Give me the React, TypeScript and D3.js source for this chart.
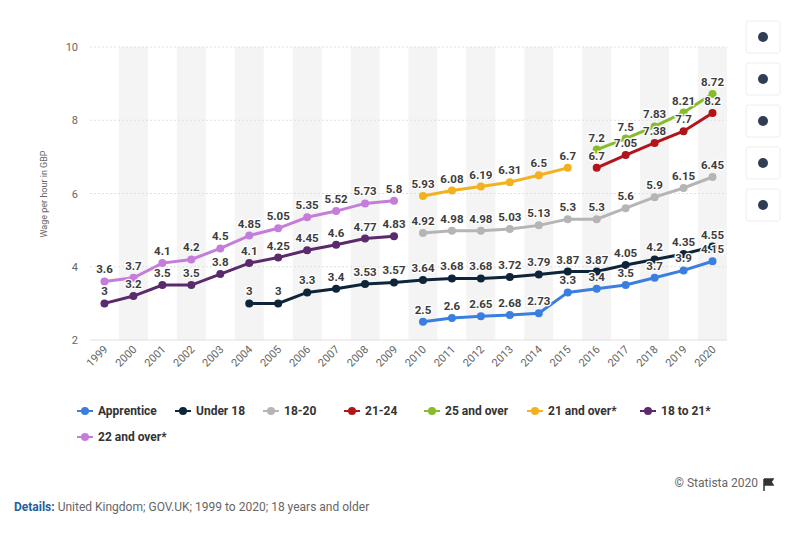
import React from "react";
import * as d3 from "d3";

const years = d3.range(1999, 2021).map(String);
const seriesNames = ["Apprentice","Under 18","18-20","21-24","25 and over","21 and over*","18 to 21*","22 and over*"];
const colors = ["#3a7fe0","#0e2438","#b5b5b5","#b0151b","#86bc2a","#f2b11d","#5a2a6b","#c57ddb"];
const startYears = [2010,2004,2010,2016,2016,2010,1999,1999];
const apprentice = [2.5,2.6,2.65,2.68,2.73,3.3,3.4,3.5,3.7,3.9,4.15];
const under18 = [3,3,3.3,3.4,3.53,3.57,3.64,3.68,3.68,3.72,3.79,3.87,3.87,4.05,4.2,4.35,4.55];
const s1820 = [4.92,4.98,4.98,5.03,5.13,5.3,5.3,5.6,5.9,6.15,6.45];
const s2124 = [6.7,7.05,7.38,7.7,8.2];
const s25 = [7.2,7.5,7.83,8.21,8.72];
const s21over = [5.93,6.08,6.19,6.31,6.5,6.7];
const s18to21 = [3,3.2,3.5,3.5,3.8,4.1,4.25,4.45,4.6,4.77,4.83];
const s22over = [3.6,3.7,4.1,4.2,4.5,4.85,5.05,5.35,5.52,5.73,5.8];
const allValues = [apprentice,under18,s1820,s2124,s25,s21over,s18to21,s22over];
const yTicks = [2,4,6,8,10];

export default function App() {
  const W = 800, H = 543;
  const x = d3.scaleBand().domain(years).range([90, 727]);
  const y = d3.scaleLinear().domain([2, 10]).range([340, 47]);
  const cx = (yr: string) => (x(yr) as number) + x.bandwidth() / 2;
  const line = d3.line<[number, number]>().x(d => d[0]).y(d => d[1]);
  const series = allValues.map((vals, i) => vals.map((v, j) => [cx(String(startYears[i] + j)), y(v), v] as [number, number, number]));
  const legendRow1 = seriesNames.slice(0, 7);
  const legendX = [77, 175, 263, 344, 424, 527, 640];
  return (
    <svg width={W} height={H} style={{ position: "absolute", left: 0, top: 0, fontFamily: "Roboto, sans-serif" }}>
      <rect width={W} height={H} fill="#fff" />
      {years.map((yr, i) => i % 2 === 1 ? <rect key={yr} x={x(yr)} y={47} width={x.bandwidth()} height={293} fill="#f4f4f4" /> : null)}
      {yTicks.map(t => (
        <g key={t}>
          <line x1={90} x2={727} y1={y(t)} y2={y(t)} stroke="#e0e0e0" strokeDasharray={t === 2 ? "" : "2,2"} />
          <text x={78} y={y(t) + 4} textAnchor="end" fontSize={11} fill="#666">{t}</text>
        </g>
      ))}
      <text transform={`translate(47,194) rotate(-90)`} textAnchor="middle" fontSize={9} fill="#666">Wage per hour in GBP</text>
      {years.map(yr => (
        <text key={yr} transform={`translate(${cx(yr) + 4},350) rotate(-45)`} textAnchor="end" fontSize={11} fill="#666">{yr}</text>
      ))}
      {series.map((pts, i) => (
        <g key={i}>
          <path d={line(pts.map(p => [p[0], p[1]]) as [number, number][]) || ""} fill="none" stroke={colors[i]} strokeWidth={3} />
          {pts.map((p, j) => <circle key={j} cx={p[0]} cy={p[1]} r={4} fill={colors[i]} />)}
        </g>
      ))}
      {series.map((pts, i) => pts.map((p, j) => (
        <text key={i + "-" + j} x={p[0]} y={p[1] - 8} textAnchor="middle" fontSize={11.5} fontWeight="bold" fill="#3c3c3c" stroke="#fff" strokeWidth={2.5} paintOrder="stroke">{p[2]}</text>
      )))}
      {legendRow1.map((n, i) => (
        <g key={n} transform={`translate(${legendX[i]},411)`}>
          <line x1={0} x2={16} y1={0} y2={0} stroke={colors[i]} strokeWidth={2} />
          <circle cx={8} cy={0} r={4} fill={colors[i]} />
          <text x={21} y={4} fontSize={12} fontWeight="bold" fill="#333">{n}</text>
        </g>
      ))}
      <g transform="translate(77,437)">
        <line x1={0} x2={16} y1={0} y2={0} stroke={colors[7]} strokeWidth={2} />
        <circle cx={8} cy={0} r={4} fill={colors[7]} />
        <text x={21} y={4} fontSize={12} fontWeight="bold" fill="#333">{seriesNames[7]}</text>
      </g>
      {[37, 79, 121, 163, 205].map((yy, i) => (
        <g key={i}>
          <rect x={746} y={yy - 16} width={34} height={32} rx={3} fill="#fff" stroke="#eee" />
          <circle cx={763} cy={yy} r={5} fill="#2f3e55" />
        </g>
      ))}
      <text x={14} y={511} fontSize={12} fill="#666"><tspan fontWeight="bold" fill="#1f5fa0">Details:</tspan> United Kingdom; GOV.UK; 1999 to 2020; 18 years and older</text>
      <text x={758} y={487} textAnchor="end" fontSize={12} fill="#666">© Statista 2020</text>
      <path d="M764,479 v12 M764,479 h9 l-2,3 l2,3 h-9" fill="#333" stroke="#333" strokeWidth={1.5} />
    </svg>
  );
}
